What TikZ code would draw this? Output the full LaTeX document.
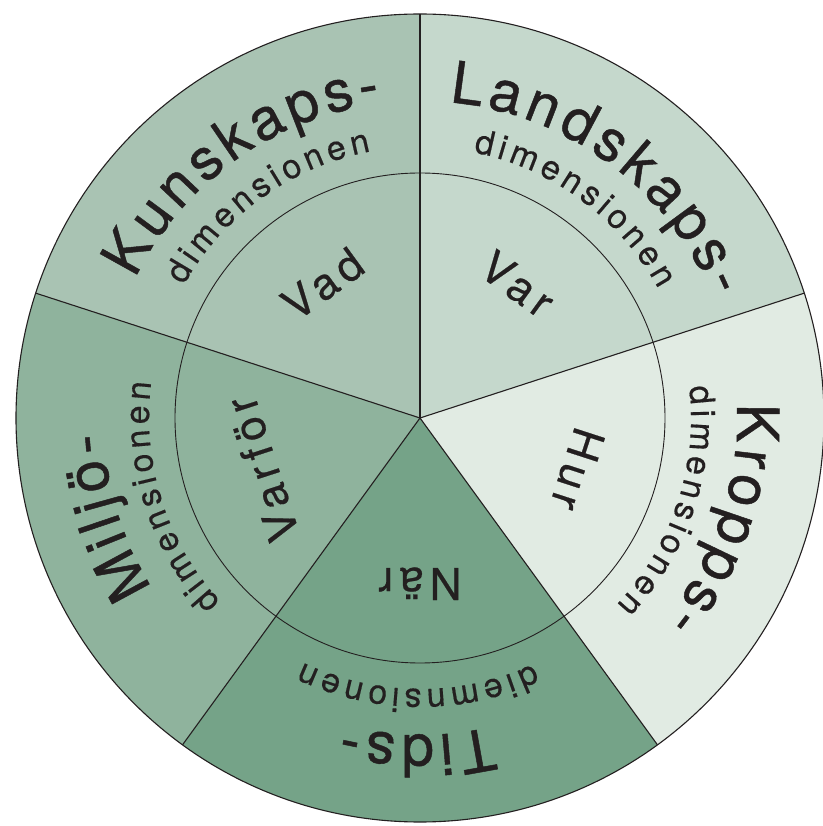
\documentclass[tikz,border=0pt]{standalone}
\usepackage{fontspec}
\setmainfont{TeX Gyre Heros}
\newfontfamily\bigf[FakeBold=0.8]{TeX Gyre Heros}
\newfontfamily\smallf[FakeBold=0.4]{TeX Gyre Heros}
\newfontfamily\innerf[LetterSpace=14,FakeBold=0.5]{TeX Gyre Heros}
\usetikzlibrary{decorations.text}
\definecolor{inkc}{HTML}{231F20}
\definecolor{kunc}{HTML}{A9C3B3}
\definecolor{landc}{HTML}{C5D8CC}
\definecolor{kroppc}{HTML}{E1EBE3}
\definecolor{tidc}{HTML}{75A388}
\definecolor{miljc}{HTML}{8FB39D}
\newcommand\bigsz{\bigf\fontsize{58}{60}\selectfont\kern5pt}
\newcommand\smsz{\smallf\fontsize{34}{36}\selectfont\kern4.5pt}
\begin{document}
\begin{tikzpicture}[x=1pt,y=1pt,
  ink/.style={draw=inkc, line width=1.1pt},
  thin/.style={draw=inkc, line width=0.9pt},
  bigtext/.style={decorate, decoration={text along path, text align=center, text color=inkc, text={|\bigsz|#1}}},
  smalltext/.style={decorate, decoration={text along path, text align=center, text color=inkc, text={|\smsz|#1}}},
  innerword/.style={font=\innerf\fontsize{44}{46}\selectfont, text=inkc, anchor=base, inner sep=0pt},
]
\useasboundingbox (-420,-408) rectangle (402,418);
% sector fills
\fill[kunc]   (0,0) -- (162:404) arc[start angle=162, end angle=90,  radius=404] -- cycle;
\fill[landc]  (0,0) -- (90:404)  arc[start angle=90,  end angle=18,  radius=404] -- cycle;
\fill[kroppc] (0,0) -- (18:404)  arc[start angle=18,  end angle=-54, radius=404] -- cycle;
\fill[tidc]   (0,0) -- (-54:404) arc[start angle=-54, end angle=-126,radius=404] -- cycle;
\fill[miljc]  (0,0) -- (-126:404) arc[start angle=-126, end angle=-198,radius=404] -- cycle;
% circles and dividers
\coordinate (c) at (0,0);
\draw[ink] (c) circle[radius=404];
\draw[thin] (c) circle[radius=245];
\foreach \a in {90,18,-54,-126,162} {
  \coordinate (e\a) at (\a:404);
  \draw[ink] (c) -- (e\a);
}
% Kunskaps (mid 126)
\path[bigtext=Kunskaps-] (171:317) arc[start angle=171, end angle=81, radius=317];
\path[smalltext=dimensionen] (181:271) arc[start angle=181, end angle=71, radius=271];
\node[innerword, rotate=36] (vad) at (126:150) {Vad};
% Landskaps (mid 54)
\path[bigtext=Landskaps-] (99:317) arc[start angle=99, end angle=9, radius=317];
\path[smalltext=dimensionen] (109:271) arc[start angle=109, end angle=-1, radius=271];
\node[innerword, rotate=-36] (var) at (54:150) {Var};
% Kropps (mid -18)
\path[bigtext=Kropps-] (27:317) arc[start angle=27, end angle=-63, radius=317];
\path[smalltext=dimensionen] (37:271) arc[start angle=37, end angle=-73, radius=271];
\node[innerword, rotate=-108] (hur) at (-18:150) {Hur};
% Tids (mid -90)
\path[bigtext=Tids-] (-45:317) arc[start angle=-45, end angle=-135, radius=317];
\path[smalltext=diemnsionen] (-35:271) arc[start angle=-35, end angle=-145, radius=271];
\node[innerword, rotate=-180] (nar) at (-90:150) {När};
% Miljo (mid 198)
\path[bigtext=Miljö-] (243:317) arc[start angle=243, end angle=153, radius=317];
\path[smalltext=dimensionen] (253:271) arc[start angle=253, end angle=143, radius=271];
\node[innerword, rotate=108] (varfor) at (198:150) {Varför};
\end{tikzpicture}
\end{document}
